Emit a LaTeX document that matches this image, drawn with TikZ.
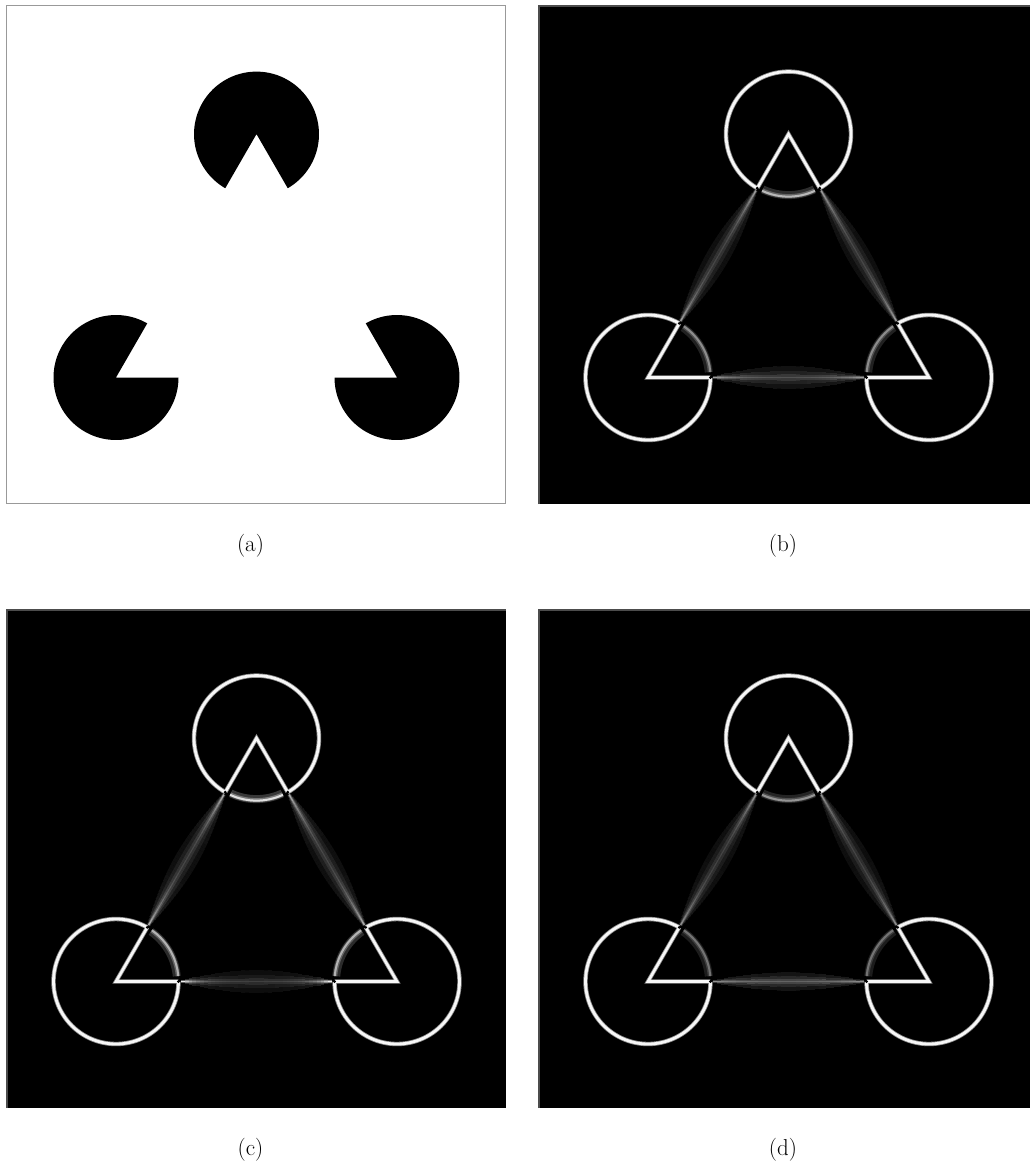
\documentclass[tikz,border=0pt]{standalone}
\usetikzlibrary{calc}
\tikzset{
  ringhalo/.style={line width=4.4, color=white!55!black, line cap=butt, line join=round},
  ringcore/.style={line width=2.8, color=white!97!black, line cap=butt, line join=round},
  trihalo/.style={line width=4.2, color=white!55!black, line join=miter, line cap=butt},
  tricore/.style={line width=2.6, color=white!97!black, line join=miter, line cap=butt},
  labeltext/.style={font=\fontsize{23}{27}\selectfont, inner sep=0pt},
  pacman/.style={fill=black},
  panelblack/.style={fill=black},
  paneledge/.style={draw=white!30!black, line width=2},
  framea/.style={draw=white!60!black, line width=1, fill=white},
  gapdot/.style={fill=black},
}
% one layer of glow along a triangle side between the two circles
% #1 A, #2 B, #3 end brightness, #4 middle brightness, #5 decay, #6 base width, #7 width gain, #8 brightness factor
\newcommand\glowlayer[8]{%
  \foreach \i in {0,...,39}{%
    \pgfmathsetmacro\sa{0.232+0.536*\i/40}%
    \pgfmathsetmacro\sb{0.232+0.536*(\i+1)/40}%
    \pgfmathsetmacro\ss{(\i+0.5)/40}%
    \pgfmathtruncatemacro\bb{#8*min(100,#4+#3*exp(-\ss/#5)+#3*exp(-(1-\ss)/#5))}%
    \pgfmathsetmacro\ww{#6+#7*sin(180*\ss)}%
    \draw[line width=\ww, color=white!\bb!black] ($(#1)!\sa!(#2)$) -- ($(#1)!\sb!(#2)$);
  }%
}
\newcommand\glowside[6]{%
  \glowlayer{#1}{#2}{#3}{#4}{#5}{3}{2.2*#6}{0.22}%
  \glowlayer{#1}{#2}{#3}{#4}{#5}{2.2}{1.2*#6}{0.42}%
  \glowlayer{#1}{#2}{#3}{#4}{#5}{1.6}{0.5*#6}{0.7}%
  \glowlayer{#1}{#2}{#3}{#4}{#5}{1.1}{0}{1}%
}
% dim arc in the mouth of a circle: #1 cx, #2 cy, #3 start, #4 end, #5 brightness
\newcommand\mouth[5]{%
  \pgfmathtruncatemacro\bh{0.25*#5}%
  \pgfmathtruncatemacro\bm{0.55*#5}%
  \draw[line width=8, color=white!\bh!black] plot[domain=#3:#4, samples=20, smooth] ({#1+61*cos(\x)},{#2+61*sin(\x)});
  \draw[line width=4, color=white!\bm!black] plot[domain=#3:#4, samples=20, smooth] ({#1+62*cos(\x)},{#2+62*sin(\x)});
  \draw[line width=2, color=white!#5!black] plot[domain=#3:#4, samples=20, smooth] ({#1+62.5*cos(\x)},{#2+62.5*sin(\x)});
}
\newcommand\panelbase{%
  \draw[ringhalo] plot[domain=120:420,samples=90,smooth] ({256.5+62.5*cos(\x)},{134.1+62.5*sin(\x)});
  \draw[ringhalo] plot[domain=0:300,samples=90,smooth] ({116+62.5*cos(\x)},{377.5+62.5*sin(\x)});
  \draw[ringhalo] plot[domain=240:540,samples=90,smooth] ({397+62.5*cos(\x)},{377.5+62.5*sin(\x)});
  \draw[trihalo] ($(T)!0.222!(L)$) -- (T) -- ($(T)!0.222!(R)$);
  \draw[trihalo] ($(L)!0.222!(T)$) -- (L) -- ($(L)!0.222!(R)$);
  \draw[trihalo] ($(R)!0.222!(T)$) -- (R) -- ($(R)!0.222!(L)$);
  \draw[ringcore] plot[domain=120:420,samples=90,smooth] ({256.5+62.5*cos(\x)},{134.1+62.5*sin(\x)});
  \draw[ringcore] plot[domain=0:300,samples=90,smooth] ({116+62.5*cos(\x)},{377.5+62.5*sin(\x)});
  \draw[ringcore] plot[domain=240:540,samples=90,smooth] ({397+62.5*cos(\x)},{377.5+62.5*sin(\x)});
  \draw[tricore] ($(T)!0.222!(L)$) -- (T) -- ($(T)!0.222!(R)$);
  \draw[tricore] ($(L)!0.222!(T)$) -- (L) -- ($(L)!0.222!(R)$);
  \draw[tricore] ($(R)!0.222!(T)$) -- (R) -- ($(R)!0.222!(L)$);
  \fill[gapdot] ($(T)!0.2224!(L)$) circle (1.6);
  \fill[gapdot] ($(T)!0.2224!(R)$) circle (1.6);
  \fill[gapdot] ($(L)!0.2224!(T)$) circle (1.6);
  \fill[gapdot] ($(L)!0.2224!(R)$) circle (1.6);
  \fill[gapdot] ($(R)!0.2224!(T)$) circle (1.6);
  \fill[gapdot] ($(R)!0.2224!(L)$) circle (1.6);
}
\begin{document}
\begin{tikzpicture}[x=1pt,y=-1pt]
\useasboundingbox (0,0) rectangle (1030,1165);
\fill[white] (0,0) rectangle (1030,1165);

% ---------- (a) ----------
\draw[framea] (6.5,5.5) rectangle (505.5,503.5);
\fill[pacman] (256.5,134.1) -- plot[domain=120:420,samples=100] ({256.5+62.5*cos(\x)},{134.1+62.5*sin(\x)}) -- cycle;
\fill[pacman] (116,377.5) -- plot[domain=0:300,samples=100] ({116+62.5*cos(\x)},{377.5+62.5*sin(\x)}) -- cycle;
\fill[pacman] (397,377.5) -- plot[domain=240:540,samples=100] ({397+62.5*cos(\x)},{377.5+62.5*sin(\x)}) -- cycle;
\node[labeltext] (capa) at (250.5,546) {(a)};

% ---------- (b) ----------
\begin{scope}[shift={(532,0)}]
  \fill[panelblack] (6,5) rectangle (498,504);
  \coordinate (T) at (256.5,134.1);
  \coordinate (L) at (116,377.5);
  \coordinate (R) at (397,377.5);
  \glowside{T}{L}{55}{8}{0.3}{9}
  \glowside{T}{R}{55}{8}{0.3}{9}
  \glowside{L}{R}{35}{30}{0.15}{9}
  \mouth{256.5}{134.1}{65}{115}{72}
  \mouth{116}{377.5}{305}{355}{55}
  \mouth{397}{377.5}{185}{235}{55}
  \panelbase
  \draw[paneledge] (7,504) -- (7,6) -- (498,6);
  \node[labeltext] (capb) at (251,546) {(b)};
\end{scope}

% ---------- (c) ----------
\begin{scope}[shift={(0,604)}]
  \fill[panelblack] (6,5) rectangle (506,504);
  \coordinate (T) at (256.5,134.1);
  \coordinate (L) at (116,377.5);
  \coordinate (R) at (397,377.5);
  \glowside{T}{L}{62}{8}{0.28}{9}
  \glowside{T}{R}{62}{8}{0.28}{9}
  \glowside{L}{R}{80}{25}{0.09}{9}
  \mouth{256.5}{134.1}{65}{115}{88}
  \mouth{116}{377.5}{305}{355}{70}
  \mouth{397}{377.5}{185}{235}{70}
  \panelbase
  \draw[paneledge] (7,504) -- (7,6) -- (506,6);
  \node[labeltext] (capc) at (250.5,546) {(c)};
\end{scope}

% ---------- (d) ----------
\begin{scope}[shift={(532,604)}]
  \fill[panelblack] (6,5) rectangle (498,504);
  \coordinate (T) at (256.5,134.1);
  \coordinate (L) at (116,377.5);
  \coordinate (R) at (397,377.5);
  \glowside{T}{L}{50}{8}{0.3}{9}
  \glowside{T}{R}{50}{8}{0.3}{9}
  \glowside{L}{R}{20}{38}{0.15}{7}
  \mouth{256.5}{134.1}{65}{115}{58}
  \mouth{116}{377.5}{305}{355}{45}
  \mouth{397}{377.5}{185}{235}{45}
  \panelbase
  \draw[paneledge] (7,504) -- (7,6) -- (498,6);
  \node[labeltext] (capd) at (251,546) {(d)};
\end{scope}
\end{tikzpicture}
\end{document}
